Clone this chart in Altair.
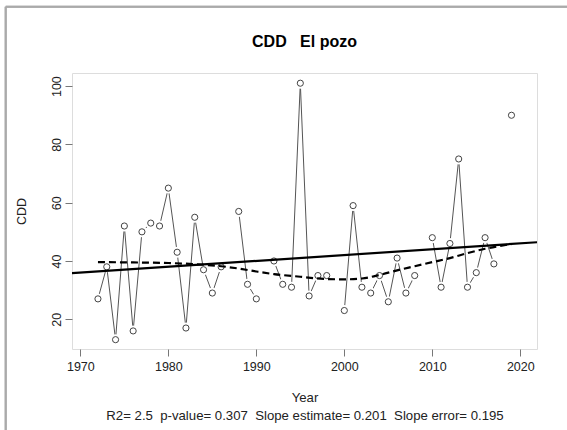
import altair as alt
import pandas as pd

# ---- data ----
years = list(range(1972, 2020))
cdd = [27, 38, 13, 52, 16, 50, 53, 52, 65, 43, 17, 55, 37, 29, 38, None,
       57, 32, 27, None, 40, 32, 31, 101, 28, 35, 35, None, 23, 59, 31, 29,
       35, 26, 41, 29, 35, None, 48, 31, 46, 75, 31, 36, 48, 39, None, 90]

trend_years = [1969, 2022]
trend_vals = [35.8, 46.45]

smooth_years = [1972, 1976, 1980, 1983, 1986, 1988, 1990, 1992, 1995, 1998,
                2000, 2002, 2004, 2006, 2008, 2010, 2012, 2014, 2016, 2019]
smooth_vals = [39.6, 39.5, 39.3, 38.9, 38.2, 37.4, 36.4, 35.5, 34.6, 33.8,
               33.7, 34.0, 35.2, 36.8, 38.2, 39.6, 41.0, 42.7, 44.2, 45.8]

x_ticks = [1970, 1980, 1990, 2000, 2010, 2020]
y_ticks = [20, 40, 60, 80, 100]

NB = "\u00a0"
title_text = "CDD" + NB * 3 + "El pozo"
x_title = ["Year",
           "R2= 2.5" + NB * 2 + "p-value= 0.307" + NB * 2 +
           "Slope estimate= 0.201" + NB * 2 + "Slope error= 0.195"]
y_title = "CDD"

df = pd.DataFrame({"Year": years, "CDD": cdd})
df_trend = pd.DataFrame({"Year": trend_years, "CDD": trend_vals})
df_smooth = pd.DataFrame({"Year": smooth_years, "CDD": smooth_vals})
df_title = pd.DataFrame({"label": [title_text]})

FONT = "Liberation Sans"
xscale = alt.Scale(domain=[1969.05, 2021.9], nice=False, zero=False)
yscale = alt.Scale(domain=[9.8, 104.5], nice=False, zero=False)

xenc = alt.X("Year:Q", scale=xscale,
             axis=alt.Axis(values=x_ticks, format="d", title=x_title,
                           grid=False, domain=False, tickSize=7,
                           tickColor="#777", labelFontSize=12.5,
                           labelFont=FONT, labelColor="#222",
                           labelPadding=4, titleFont=FONT,
                           titleFontSize=13.2, titleFontWeight="normal",
                           titleColor="#222", titlePadding=19,
                           titleLineHeight=17.5, labelFlush=False))
yenc = alt.Y("CDD:Q", scale=yscale,
             axis=alt.Axis(values=y_ticks, title=y_title, grid=False,
                           domain=False, tickSize=7, tickColor="#777",
                           labelAngle=-90, labelFontSize=12.5,
                           labelFont=FONT, labelColor="#222",
                           labelPadding=2, titleFont=FONT,
                           titleFontSize=12.5, titleFontWeight="normal",
                           titleColor="#222", titlePadding=22,
                           labelFlush=False))

base = alt.Chart(df)

line = base.mark_line(color="#555", strokeWidth=1).encode(x=xenc, y=yenc)
halo = base.mark_point(shape="circle", filled=True, fill="white",
                       opacity=1, size=120, strokeWidth=0).encode(x=xenc, y=yenc)
pts = base.mark_point(shape="circle", filled=False, color="#444",
                      size=38, strokeWidth=1, opacity=1).encode(x=xenc, y=yenc)
trend = alt.Chart(df_trend).mark_line(color="black", strokeWidth=2.2,
                                      clip=True).encode(x=xenc, y=yenc)
smooth = alt.Chart(df_smooth).mark_line(color="black", strokeWidth=2.2,
                                        strokeDash=[7, 4],
                                        interpolate="monotone").encode(x=xenc, y=yenc)

title = alt.Chart(df_title).mark_text(font=FONT, fontSize=16, fontWeight="bold",
                                      color="black", align="center",
                                      baseline="middle").encode(
    text="label:N", x=alt.value(232.5), y=alt.value(-31.5))

border_v = alt.Chart(df_trend).mark_rule(color="#aaa", strokeWidth=2).encode(
    x=alt.value(-66.3), y=alt.value(-66.3), y2=alt.value(357))
border_h = alt.Chart(df_trend).mark_rule(color="#aaa", strokeWidth=2).encode(
    y=alt.value(-66.3), x=alt.value(-66.3), x2=alt.value(495))

chart = alt.layer(line, halo, pts, trend, smooth, title, border_v, border_h).properties(
    width=465, height=276,
    padding={"left": 72, "top": 73, "right": 30, "bottom": 81},
    autosize=alt.AutoSizeParams(type="none"),
).configure_view(stroke="#777", strokeWidth=1.3).configure(background="white")

chart.save("out.html", embed_options={"renderer": "svg", "actions": False})
